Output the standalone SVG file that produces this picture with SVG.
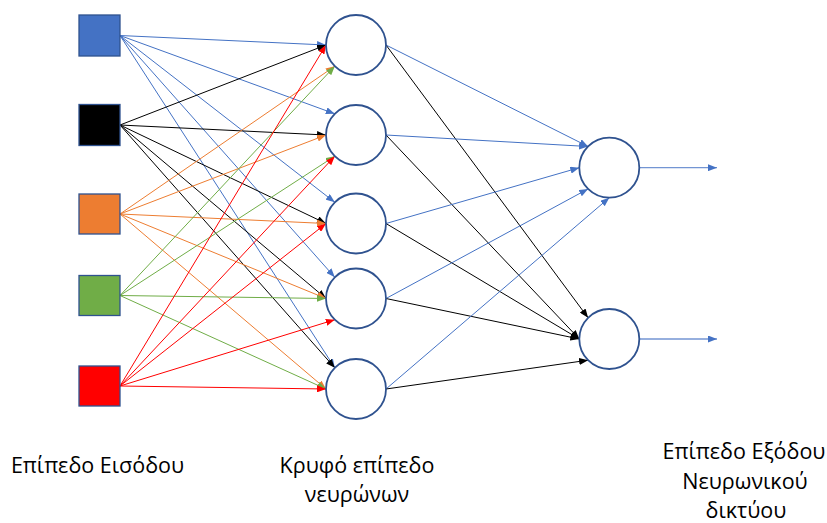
<svg xmlns="http://www.w3.org/2000/svg" width="827" height="523" viewBox="0 0 827 523">
  <style>
    .sq { stroke: #2F528F; stroke-width: 1.3; }
    .neuron { fill: #FFFFFF; stroke: #2F528F; stroke-width: 1.8; }
    .ln { fill: none; stroke-width: 1; }
    .blue { stroke: #4472C4; marker-end: url(#ah-blue); }
    .black { stroke: #000000; marker-end: url(#ah-black); }
    .orange { stroke: #ED7D31; marker-end: url(#ah-orange); }
    .green { stroke: #70AD47; marker-end: url(#ah-green); }
    .red { stroke: #FF0000; marker-end: url(#ah-red); }
    .out { fill: none; stroke: #4472C4; stroke-width: 1.3; stroke-opacity: 0.75; marker-end: url(#ah-blue); }
    .label { font-family: "Open Sans", "Noto Sans", "DejaVu Sans", sans-serif; font-size: 21.5px; fill: #000000; text-anchor: middle; }
  </style>
  <defs>
    <marker id="ah-blue" viewBox="0 0 9 7" refX="9" refY="3.5" markerWidth="9" markerHeight="7" markerUnits="userSpaceOnUse" orient="auto">
      <path d="M0,0 L9,3.5 L0,7 z" fill="#4472C4"/>
    </marker>
    <marker id="ah-black" viewBox="0 0 9 7" refX="9" refY="3.5" markerWidth="9" markerHeight="7" markerUnits="userSpaceOnUse" orient="auto">
      <path d="M0,0 L9,3.5 L0,7 z" fill="#000000"/>
    </marker>
    <marker id="ah-orange" viewBox="0 0 9 7" refX="9" refY="3.5" markerWidth="9" markerHeight="7" markerUnits="userSpaceOnUse" orient="auto">
      <path d="M0,0 L9,3.5 L0,7 z" fill="#ED7D31"/>
    </marker>
    <marker id="ah-green" viewBox="0 0 9 7" refX="9" refY="3.5" markerWidth="9" markerHeight="7" markerUnits="userSpaceOnUse" orient="auto">
      <path d="M0,0 L9,3.5 L0,7 z" fill="#70AD47"/>
    </marker>
    <marker id="ah-red" viewBox="0 0 9 7" refX="9" refY="3.5" markerWidth="9" markerHeight="7" markerUnits="userSpaceOnUse" orient="auto">
      <path d="M0,0 L9,3.5 L0,7 z" fill="#FF0000"/>
    </marker>
  </defs>

  <rect width="827" height="523" fill="#FFFFFF"/>

  <!-- connectors -->
  <g id="connectors" class="ln">
    <!-- input 1 (blue) -->
    <line class="blue" x1="120" y1="35.5" x2="326" y2="45"/>
    <line class="blue" x1="120" y1="35.5" x2="334.8" y2="113.8"/>
    <line class="blue" x1="120" y1="35.5" x2="334.8" y2="202.3"/>
    <line class="blue" x1="120" y1="35.5" x2="334.8" y2="277.3"/>
    <line class="blue" x1="120" y1="35.5" x2="334.8" y2="367.8"/>
    <!-- input 2 (black) -->
    <line class="black" x1="120" y1="125" x2="326" y2="45"/>
    <line class="black" x1="120" y1="125" x2="326" y2="135"/>
    <line class="black" x1="120" y1="125" x2="326" y2="223.5"/>
    <line class="black" x1="120" y1="125" x2="326" y2="298.5"/>
    <line class="black" x1="120" y1="125" x2="334.8" y2="367.8"/>
    <!-- input 3 (orange) -->
    <line class="orange" x1="120" y1="214" x2="334.8" y2="66.2"/>
    <line class="orange" x1="120" y1="214" x2="326" y2="135"/>
    <line class="orange" x1="120" y1="214" x2="326" y2="223.5"/>
    <line class="orange" x1="120" y1="214" x2="326" y2="298.5"/>
    <line class="orange" x1="120" y1="214" x2="326" y2="389"/>
    <!-- input 4 (green) -->
    <line class="green" x1="120" y1="295.5" x2="334.8" y2="66.2"/>
    <line class="green" x1="120" y1="295.5" x2="334.8" y2="156.2"/>
    <line class="green" x1="120" y1="295.5" x2="326" y2="298.5"/>
    <line class="green" x1="120" y1="295.5" x2="326" y2="389"/>
    <!-- input 5 (red) -->
    <line class="red" x1="120" y1="386" x2="326" y2="45"/>
    <line class="red" x1="120" y1="386" x2="334.8" y2="156.2"/>
    <line class="red" x1="120" y1="386" x2="326" y2="223.5"/>
    <line class="red" x1="120" y1="386" x2="334.8" y2="319.7"/>
    <line class="red" x1="120" y1="386" x2="326" y2="389"/>
    <!-- hidden to output -->
    <line class="blue" x1="386" y1="45" x2="588.1" y2="146.5"/>
    <line class="black" x1="386" y1="45" x2="588.1" y2="317.8"/>
    <line class="blue" x1="386" y1="135" x2="588.1" y2="146.5"/>
    <line class="black" x1="386" y1="135" x2="579.3" y2="339"/>
    <line class="blue" x1="386" y1="223.5" x2="579.3" y2="167.7"/>
    <line class="black" x1="386" y1="223.5" x2="579.3" y2="339"/>
    <line class="blue" x1="386" y1="298.5" x2="588.1" y2="188.9"/>
    <line class="black" x1="386" y1="298.5" x2="579.3" y2="339"/>
    <line class="blue" x1="386" y1="389" x2="609.3" y2="197.7"/>
    <line class="black" x1="386" y1="389" x2="588.1" y2="360.2"/>
    <!-- outputs -->
    <line class="out" x1="639.3" y1="167.7" x2="717" y2="167.7"/>
    <line class="out" x1="639.3" y1="339" x2="717" y2="339"/>
  </g>

  <!-- input layer -->
  <g id="in1"><rect class="sq" x="79" y="15" width="41" height="41" fill="#4472C4"/></g>
  <g id="in2"><rect class="sq" x="79" y="104.5" width="41" height="41" fill="#000000"/></g>
  <g id="in3"><rect class="sq" x="79" y="194" width="41" height="40" fill="#ED7D31"/></g>
  <g id="in4"><rect class="sq" x="79" y="275.5" width="41" height="40" fill="#70AD47"/></g>
  <g id="in5"><rect class="sq" x="79" y="366" width="41" height="40" fill="#FF0000"/></g>

  <!-- hidden layer -->
  <g id="h1"><circle class="neuron" cx="356" cy="45" r="30"/></g>
  <g id="h2"><circle class="neuron" cx="356" cy="135" r="30"/></g>
  <g id="h3"><circle class="neuron" cx="356" cy="223.5" r="30"/></g>
  <g id="h4"><circle class="neuron" cx="356" cy="298.5" r="30"/></g>
  <g id="h5"><circle class="neuron" cx="356" cy="389" r="30"/></g>

  <!-- output layer -->
  <g id="o1"><circle class="neuron" cx="609.3" cy="167.7" r="30"/></g>
  <g id="o2"><circle class="neuron" cx="609.3" cy="339" r="30"/></g>

  <!-- layer captions -->
  <g id="caption-input">
    <text class="label" x="97.5" y="473">Επίπεδο Εισόδου</text>
  </g>
  <g id="caption-hidden">
    <text class="label" x="357" y="473">Κρυφό επίπεδο</text>
    <text class="label" x="357" y="502">νευρώνων</text>
  </g>
  <g id="caption-output">
    <text class="label" x="744" y="459">Επίπεδο Εξόδου</text>
    <text class="label" x="745" y="489">Νευρωνικού</text>
    <text class="label" x="746" y="518">δικτύου</text>
  </g>
</svg>
